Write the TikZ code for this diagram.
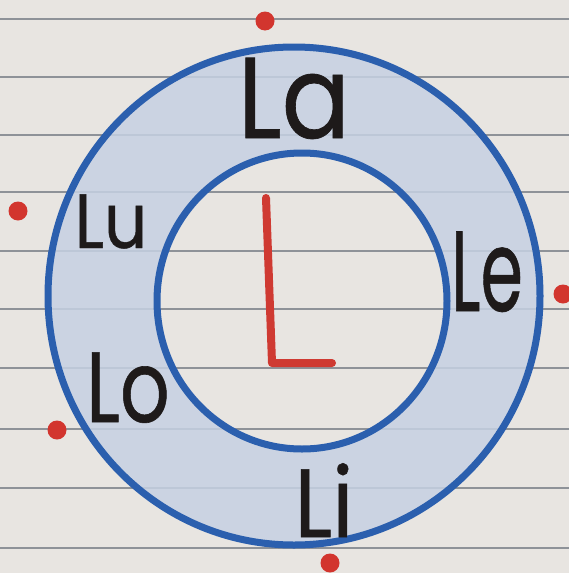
\documentclass[tikz,border=0pt]{standalone}
\usepackage{graphicx}
\usepackage{fontspec}
\setmainfont{Poppins}[FakeBold=0.6]
\definecolor{paper}{HTML}{E8E5E1}
\definecolor{rule}{HTML}{8E9298}
\definecolor{ringfill}{HTML}{C6D1E3}
\definecolor{ringblue}{HTML}{2B5FAE}
\definecolor{inkred}{HTML}{CF3A32}
\definecolor{dotred}{HTML}{D2352E}
\definecolor{ink}{HTML}{1E1A1A}
\newcommand{\hwtext}[3]{\fontsize{#1}{#1}\selectfont\scalebox{#2}[1]{#3}}
\begin{document}
\begin{tikzpicture}[x=1pt,y=-1pt,
  paperline/.style={draw=rule,line width=1.3pt},
  ringline/.style={draw=ringblue,line width=7pt},
  reddot/.style={circle,fill=dotred,inner sep=0pt,minimum size=19pt},
  hand/.style={text=ink,inner sep=0pt,anchor=base},
]
\useasboundingbox (0,0) rectangle (569,573);
\fill[paper] (0,0) rectangle (569,573);
% ruled lines
\foreach \yy in {19,77,135,192,251,309,368,429,488,548}
  \draw[paperline] (0,\yy) -- (569,\yy);
% ring fill
\fill[ringfill,fill opacity=0.85,even odd rule]
  (294,296) ellipse [x radius=246pt,y radius=249pt]
  (302,301) ellipse [x radius=145pt,y radius=148pt];
\draw[ringline] (294,296) ellipse [x radius=246pt,y radius=249pt];
\draw[ringline] (302,301) ellipse [x radius=145pt,y radius=148pt];
% red dots
\node[reddot] (d1) at (265,21) {};
\node[reddot] (d2) at (18,211) {};
\node[reddot] (d3) at (563,294) {};
\node[reddot] (d4) at (57,430) {};
\node[reddot] (d5) at (330,563) {};
% big red L
\draw[draw=inkred,line width=8pt,line cap=round,line join=round]
  (266,198) -- (272,363) -- (332,363);
% labels
\node[hand] (la) at (294,138) {\hwtext{115}{0.88}{La}};
\node[hand] (lu) at (111,248) {\hwtext{77}{0.88}{Lu}};
\node[hand] (le) at (487,311) {\hwtext{114}{0.6}{Le}};
\node[hand] (lo) at (128,422) {\hwtext{100}{0.78}{Lo}};
\node[hand] (li) at (324,537) {\hwtext{97}{0.9}{Li}};
\end{tikzpicture}
\end{document}
